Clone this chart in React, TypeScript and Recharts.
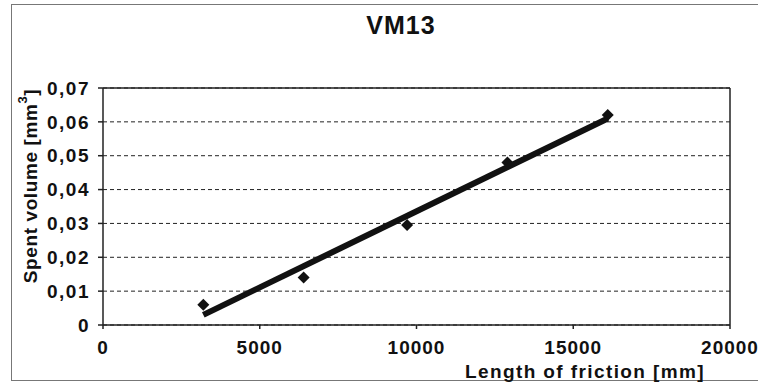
import { ScatterChart, Scatter, XAxis, YAxis, CartesianGrid, ReferenceLine, Label } from "recharts";

const FONT = '"Liberation Sans", Arial, sans-serif';

const frictionLength = [3200, 6400, 9700, 12900, 16100];
const spentVolume = [0.006, 0.014, 0.0295, 0.048, 0.062];

// trend line end points
const trendX = [3200, 16100];
const trendY = [0.003, 0.061];

const xTicks = [0, 5000, 10000, 15000, 20000];
const yTicks = [0, 0.01, 0.02, 0.03, 0.04, 0.05, 0.06, 0.07];

const points = frictionLength.map((x, i) => ({ x, y: spentVolume[i] }));
const trend = trendX.map((x, i) => ({ x, y: trendY[i] }));

const Diamond = (props: any) => {
  const { cx, cy } = props;
  const r = 6;
  return <polygon points={`${cx},${cy - r} ${cx + r},${cy} ${cx},${cy + r} ${cx - r},${cy}`} fill="#111" />;
};

export default function App() {
  return (
    <div style={{ position: "absolute", left: 0, top: 0, width: 759, height: 385, background: "#fff", fontFamily: FONT }}>
      <div
        style={{
          position: "absolute",
          left: 11,
          top: 4,
          width: 747,
          height: 377,
          border: "1px solid #777",
          borderRight: "none",
          boxSizing: "border-box",
        }}
      />
      <div
        style={{
          position: "absolute",
          left: 0,
          width: 802,
          top: 11,
          textAlign: "center",
          fontSize: 25,
          letterSpacing: 1,
          fontWeight: "bold",
          color: "#111",
        }}
      >
        VM13
      </div>
      <ScatterChart width={759} height={385} margin={{ top: 88, right: 29, bottom: 0, left: 0 }}>
        <CartesianGrid vertical={false} stroke="#222" strokeDasharray="4 3" />
        <XAxis
          type="number"
          dataKey="x"
          domain={[0, 20000]}
          ticks={xTicks}
          height={60}
          stroke="#222"
          strokeWidth={1.5}
          tickSize={4}
          tickMargin={12}
          tick={{ fill: "#111", fontSize: 19, fontWeight: "bold", fontFamily: FONT, letterSpacing: 1 }}
        >
          <Label
            content={() => (
              <text
                x={585}
                y={378}
                textAnchor="middle"
                fontSize={19}
                letterSpacing={1.4}
                fontWeight="bold"
                fill="#111"
                fontFamily={FONT}
              >
                Length of friction [mm]
              </text>
            )}
          />
        </XAxis>
        <YAxis
          type="number"
          dataKey="y"
          domain={[0, 0.07]}
          ticks={yTicks}
          width={103}
          stroke="#222"
          strokeWidth={1.5}
          tickSize={5}
          tickMargin={8}
          tickFormatter={(v: number) => (v === 0 ? "0" : v.toFixed(2).replace(".", ","))}
          tick={{ fill: "#111", fontSize: 19, fontWeight: "bold", fontFamily: FONT, letterSpacing: 1.5 }}
        >
          <Label
            content={() => (
              <text
                x={30}
                y={186}
                transform="rotate(-90 30 186)"
                textAnchor="middle"
                dominantBaseline="central"
                fontSize={19}
                letterSpacing={0.6}
                fontWeight="bold"
                fill="#111"
                fontFamily={FONT}
              >
                Spent volume [mm
                <tspan fontSize={13} dy={-8}>3</tspan>
                <tspan dy={8}>]</tspan>
              </text>
            )}
          />
        </YAxis>
        <ReferenceLine y={0.07} stroke="#222" strokeWidth={1.5} />
        <ReferenceLine x={20000} stroke="#222" strokeWidth={1.5} />
        <Scatter data={points} shape={Diamond} isAnimationActive={false} />
        <Scatter
          data={trend}
          line={{ stroke: "#111", strokeWidth: 6 }}
          shape={() => <g />}
          isAnimationActive={false}
        />
      </ScatterChart>
    </div>
  );
}
